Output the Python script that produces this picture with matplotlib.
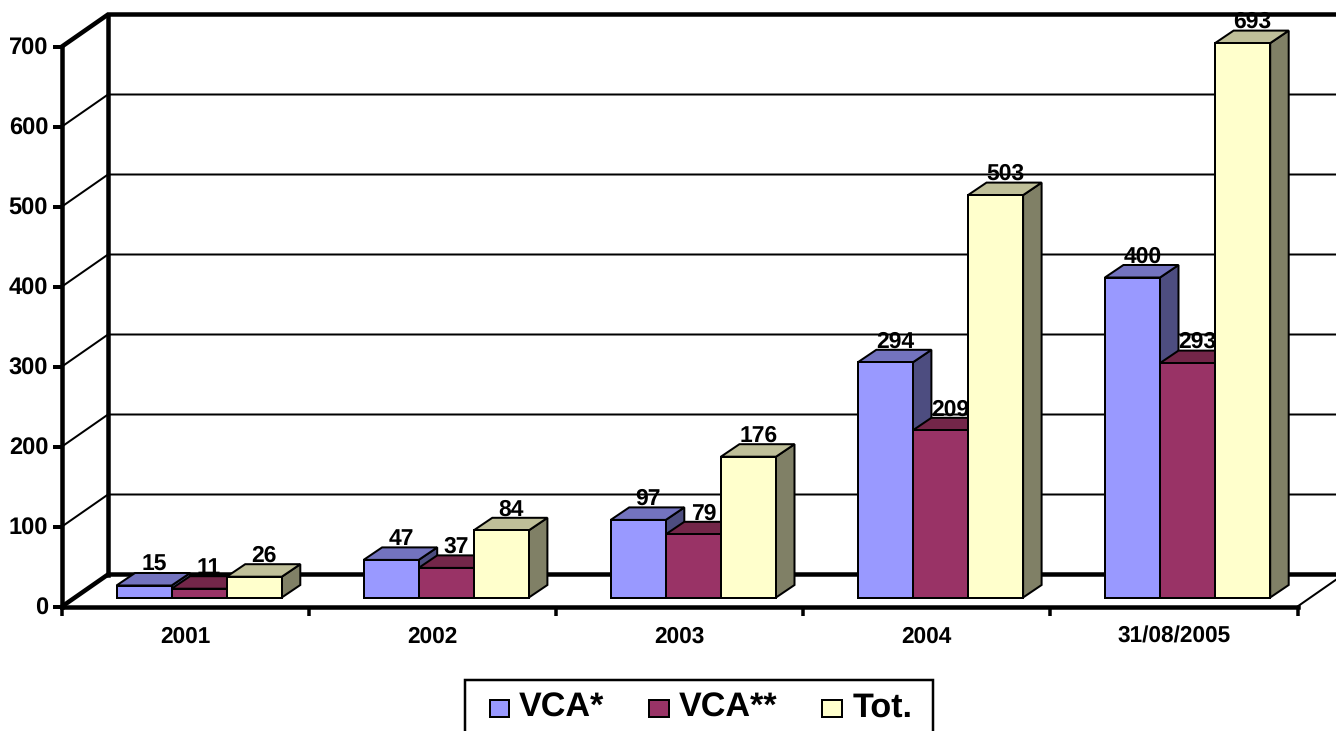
import matplotlib
matplotlib.use("Agg")
import matplotlib.pyplot as plt
from matplotlib.patches import Polygon, Patch, Rectangle
from matplotlib.legend_handler import HandlerPatch

categories = ["2001", "2002", "2003", "2004", "31/08/2005"]
series_names = ["VCA*", "VCA**", "Tot."]
vca1 = [15, 47, 97, 294, 400]
vca2 = [11, 37, 79, 209, 293]
total = [26, 84, 176, 503, 693]
yticks = [0, 100, 200, 300, 400, 500, 600, 700]

front = ["#9999FF", "#993366", "#FFFFCC"]
top = ["#7373BF", "#732649", "#BFBF99"]
side = ["#4D4D80", "#4D1A33", "#808066"]

W, H = 1336, 731
plt.rcParams["font.family"] = ["Liberation Sans", "DejaVu Sans"]
plt.rcParams["font.weight"] = "bold"
plt.rcParams["text.hinting"] = "no_hinting"
fig = plt.figure(figsize=(W / 100, H / 100), dpi=100)
L, R, Y0, Y700 = 62, 1297.5, 606.5, 46.5
ax = fig.add_axes([L / W, 1 - Y0 / H, (R - L) / W, (Y0 - Y700) / H])
ax.set_xlim(0, 5)
ax.set_ylim(0, 700)
ax.patch.set_alpha(0)
px = 5 / (R - L)      # category units per pixel
py = 700 / (Y0 - Y700)  # value units per pixel
PT = 0.72

# depth of the floor/back wall
wx, wy = 46 * px, 32 * py
for v in yticks:
    thick = v in (0, 700)
    lw = (4.5 if thick else 2) * PT
    ax.plot([0, wx, 5 + wx], [v, v + wy, v + wy], color="k", lw=lw,
            clip_on=False, zorder=1, solid_joinstyle="miter")
ax.plot([wx, wx], [wy, 700 + wy], color="k", lw=4.5 * PT, clip_on=False, zorder=1)
ax.plot([5, 5 + wx], [0, wy], color="k", lw=2 * PT, clip_on=False, zorder=1)

# bars
bw = 55.1 * px
x0 = 54.5 * px
base = 9 * py
dx, dy = 18.5 * px, 12.5 * py
all_series = [vca1, vca2, total]
for i in range(len(categories)):
    for s, vals in enumerate(all_series):
        v = vals[i]
        xl = i + x0 + s * bw
        xr = xl + bw
        b = base
        t = base + v
        kw = dict(edgecolor="k", lw=2 * PT, clip_on=False, zorder=3 + 0.1 * s, joinstyle="miter")
        ax.add_patch(Polygon([(xr, b), (xr + dx, b + dy), (xr + dx, t + dy), (xr, t)], facecolor=side[s], **kw))
        ax.add_patch(Polygon([(xl, t), (xl + dx, t + dy), (xr + dx, t + dy), (xr, t)], facecolor=top[s], **kw))
        ax.add_patch(Polygon([(xl, b), (xr, b), (xr, t), (xl, t)], facecolor=front[s], **kw))
        ax.text((xl + xr) / 2 + 10 * px, t + 15 * py, str(v), ha="center", va="baseline",
                fontsize=16.5, fontweight="bold", color="k", zorder=5, clip_on=False)

# axes
for sp in ("top", "right"):
    ax.spines[sp].set_visible(False)
for sp in ("left", "bottom"):
    ax.spines[sp].set_linewidth(4.5 * PT)
    ax.spines[sp].set_zorder(2)
ax.set_yticks(yticks)
ax.set_yticklabels([str(v) for v in yticks], fontsize=17, fontweight="bold")
ax.tick_params(axis="y", length=9 * PT, width=4 * PT, pad=3.5)
ax.set_xticks(range(6))
ax.set_xticklabels([""] * 6)
ax.tick_params(axis="x", which="major", length=9 * PT, width=3.5 * PT)
ax.set_xticks([i + 0.5 for i in range(5)], minor=True)
ax.set_xticklabels(categories, minor=True, fontsize=16.3, fontweight="bold")
ax.tick_params(axis="x", which="minor", length=0, pad=14)

# legend: frame runs past the bottom edge of the picture
fig.add_artist(Rectangle((465 / W, 1 - 745 / H), 468 / W, 65 / H, transform=fig.transFigure,
                         facecolor="white", edgecolor="k", lw=2.5 * PT, zorder=-1))
handles = [Patch(facecolor=c, edgecolor="k", lw=2 * PT, label=n) for c, n in zip(front, series_names)]
leg = ax.legend(handles=handles, ncol=3, loc="upper left",
                bbox_to_anchor=(489.5 / W, 1 - 692.5 / H), bbox_transform=fig.transFigure,
                frameon=False, borderaxespad=0, borderpad=0,
                prop={"size": 24.6, "weight": "bold"}, handlelength=0.58, handleheight=0.01,
                handletextpad=0.29, columnspacing=1.31,
                handler_map={Patch: HandlerPatch(ypad=-0.24)})
leg.set_zorder(10)

fig.savefig("out.png", dpi=100)
